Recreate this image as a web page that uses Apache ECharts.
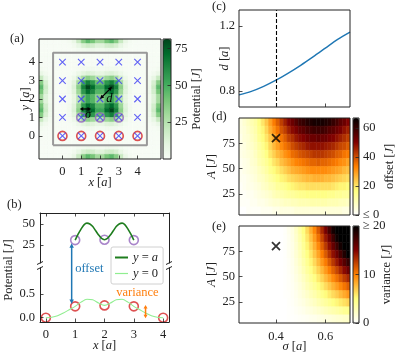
<!DOCTYPE html>
<html>
<head>
<meta charset="utf-8">
<script src="https://cdn.jsdelivr.net/npm/echarts@6/dist/echarts.min.js"></script>
<style>
html,body{margin:0;padding:0;background:#fff}
#chart{width:399px;height:359px}
</style>
</head>
<body>
<div id="chart"></div>
<script>
// ---- panel (a): potential map, cells 0.25 a wide, rows from y=5.125 down to y=-1.125
var potX = [-1.125,-0.875,-0.625,-0.375,-0.125,0.125,0.375,0.625,0.875,1.125,1.375,1.625,1.875,
            2.125,2.375,2.625,2.875,3.125,3.375,3.625,3.875,4.125,4.375,4.625,4.875,5.125];
var potY = potX.slice().reverse();
var potGrid = [
  [0,0,0,0,0,0.3,1.8,7.3,19.8,36.3,45.4,39.9,29.7,29.7,39.9,45.4,36.3,19.8,7.3,1.8,0.3,0,0,0,0,0],
  [0,0,0,0,0,0.1,0.7,2.9,7.9,14.5,18.1,16.0,11.9,11.9,16.0,18.1,14.5,7.9,2.9,0.7,0.1,0,0,0,0,0],
  [0,0,0,0,0,0,0.2,0.7,2.0,3.6,4.5,4.0,3.0,3.0,4.0,4.5,3.6,2.0,0.7,0.2,0,0,0,0,0,0],
  [0,0,0,0,0,0,0,0,0,0,0,0,0,0,0,0,0,0,0,0,0,0,0,0,0,0],
  [0,0,0,0,0,0,0,0,0,0,0,0,0,0,0,0,0,0,0,0,0,0,0,0,0,0],
  [0.3,0.1,0,0,0,0,0,0.1,0.2,0.5,0.6,0.5,0.4,0.4,0.5,0.6,0.5,0.2,0.1,0,0,0,0,0,0.1,0.3],
  [1.8,0.7,0.2,0,0,0,0.1,0.5,1.4,2.6,3.2,2.8,2.1,2.1,2.8,3.2,2.6,1.4,0.5,0.1,0,0,0,0.2,0.7,1.8],
  [7.3,2.9,0.7,0,0,0.1,0.5,2.1,5.7,10.5,13.1,11.5,8.6,8.6,11.5,13.1,10.5,5.7,2.1,0.5,0.1,0,0,0.7,2.9,7.3],
  [19.8,7.9,2.0,0,0,0.2,1.4,5.7,15.5,28.4,35.5,31.2,23.2,23.2,31.2,35.5,28.4,15.5,5.7,1.4,0.2,0,0,2.0,7.9,19.8],
  [36.3,14.5,3.6,0,0,0.5,2.6,10.5,28.4,52.1,65.1,57.3,42.6,42.6,57.3,65.1,52.1,28.4,10.5,2.6,0.5,0,0,3.6,14.5,36.3],
  [45.4,18.1,4.5,0,0,0.6,3.2,13.1,35.5,65.0,81.2,71.5,53.2,53.2,71.5,81.2,65.0,35.5,13.1,3.2,0.6,0,0,4.5,18.1,45.4],
  [39.9,16.0,4.0,0,0,0.5,2.8,11.5,31.2,57.3,71.6,63.0,46.9,46.9,63.0,71.6,57.3,31.2,11.5,2.8,0.5,0,0,4.0,16.0,39.9],
  [29.7,11.9,3.0,0,0,0.4,2.1,8.6,23.2,42.6,53.2,46.8,34.8,34.8,46.8,53.2,42.6,23.2,8.6,2.1,0.4,0,0,3.0,11.9,29.7],
  [29.7,11.9,3.0,0,0,0.4,2.1,8.6,23.2,42.6,53.2,46.8,34.8,34.8,46.8,53.2,42.6,23.2,8.6,2.1,0.4,0,0,3.0,11.9,29.7],
  [39.9,16.0,4.0,0,0,0.5,2.8,11.5,31.2,57.3,71.6,63.0,46.9,46.9,63.0,71.6,57.3,31.2,11.5,2.8,0.5,0,0,4.0,16.0,39.9],
  [45.4,18.1,4.5,0,0,0.6,3.2,13.1,35.5,65.0,81.2,71.5,53.2,53.2,71.5,81.2,65.0,35.5,13.1,3.2,0.6,0,0,4.5,18.1,45.4],
  [36.3,14.5,3.6,0,0,0.5,2.6,10.5,28.4,52.1,65.1,57.3,42.6,42.6,57.3,65.1,52.1,28.4,10.5,2.6,0.5,0,0,3.6,14.5,36.3],
  [19.8,7.9,2.0,0,0,0.2,1.4,5.7,15.5,28.4,35.5,31.2,23.2,23.2,31.2,35.5,28.4,15.5,5.7,1.4,0.2,0,0,2.0,7.9,19.8],
  [7.3,2.9,0.7,0,0,0.1,0.5,2.1,5.7,10.5,13.1,11.5,8.6,8.6,11.5,13.1,10.5,5.7,2.1,0.5,0.1,0,0,0.7,2.9,7.3],
  [1.8,0.7,0.2,0,0,0,0.1,0.5,1.4,2.6,3.2,2.8,2.1,2.1,2.8,3.2,2.6,1.4,0.5,0.1,0,0,0,0.2,0.7,1.8],
  [0.3,0.1,0,0,0,0,0,0.1,0.2,0.5,0.6,0.5,0.4,0.4,0.5,0.6,0.5,0.2,0.1,0,0,0,0,0,0.1,0.3],
  [0,0,0,0,0,0,0,0,0,0,0,0,0,0,0,0,0,0,0,0,0,0,0,0,0,0],
  [0,0,0,0,0,0,0,0,0,0,0,0,0,0,0,0,0,0,0,0,0,0,0,0,0,0],
  [0,0,0,0,0,0,0.2,0.7,2.0,3.6,4.5,4.0,3.0,3.0,4.0,4.5,3.6,2.0,0.7,0.2,0,0,0,0,0,0],
  [0,0,0,0,0,0.1,0.7,2.9,7.9,14.5,18.1,16.0,11.9,11.9,16.0,18.1,14.5,7.9,2.9,0.7,0.1,0,0,0,0,0],
  [0,0,0,0,0,0.3,1.8,7.3,19.8,36.3,45.4,39.9,29.7,29.7,39.9,45.4,36.3,19.8,7.3,1.8,0.3,0,0,0,0,0]
];
var latticeIdx = [0,1,2,3,4];
var redRowX = [0,1,2,3,4];
var purpleRowX = [1,2,3];
var boxCorners = [[-0.5,-0.5],[4.5,-0.5],[4.5,4.5],[-0.5,4.5],[-0.5,-0.5]];
var latticeTicks = [0,1,2,3,4];
var potCbTicks = [25,50,75];

// ---- panel (b): cuts through the potential
var lowX = [0,0.2,0.4,0.6,0.8,1.0,1.2,1.4,1.6,1.8,2.0,2.2,2.4,2.6,2.8,3.0,3.2,3.4,3.6,3.8,4.0];
var lowV = [0.0,0.01,0.04,0.10,0.17,0.24,0.33,0.39,0.38,0.31,0.26,0.31,0.38,0.39,0.33,0.24,0.17,0.10,0.04,0.01,0.0];
var highX = [1.0,1.1,1.2,1.3,1.4,1.5,1.6,1.7,1.8,1.9,2.0,2.1,2.2,2.3,2.4,2.5,2.6,2.7,2.8,2.9,3.0];
var highV = [31,38,44,49,51,50,47,42,37,33,31.5,33,37,42,47,50,51,49,44,38,31];
var redDotsY = [0,0.24,0.26,0.24,0];
var purpleDotsY = [31,31.5,31];
var bTopTicks = [25,50];
var bLowTicks = [0,0.5];

// ---- panel (c): lattice spacing d vs sigma
var sigmaC = [0.25,0.30,0.35,0.40,0.45,0.50,0.55,0.60,0.65,0.70];
var dVals = [0.775,0.797,0.828,0.866,0.910,0.958,1.010,1.064,1.118,1.163];
var chosenSigma = 0.4;
var chosenA = 80;
var dTicks = [0.8,1.2];
var sigmaTicks = [0.4,0.6];
var aTicks = [25,50,75];

// ---- panels (d), (e): cells 0.015 a by 8 J, rows from A=96 down to A=8
var sigmaCells = [0.2575,0.2725,0.2875,0.3025,0.3175,0.3325,0.3475,0.3625,0.3775,0.3925,
                  0.4075,0.4225,0.4375,0.4525,0.4675,0.4825,0.4975,0.5125,0.5275,0.5425,
                  0.5575,0.5725,0.5875,0.6025,0.6175,0.6325,0.6475,0.6625,0.6775,0.6925];
var aCells = [96,88,80,72,64,56,48,40,32,24,16,8];
var offsetGrid = [
  [4,6,8,10,12,16,20,24,29,34,38,42,46,50,53,56,59,60,62,63,64,64,64,63,62,60,58,55,53,50],
  [4,5,7,9,11,15,18,22,27,31,35,39,42,46,49,51,54,55,57,58,59,59,59,58,56,55,53,51,48,46],
  [3,5,6,8,10,14,17,20,24,28,32,35,38,42,44,47,49,50,52,53,53,54,53,53,51,50,48,46,44,42],
  [3,4,6,7,9,12,15,18,22,26,29,32,35,37,40,42,44,45,47,48,48,48,48,47,46,45,43,41,40,38],
  [3,4,5,6,8,11,13,16,20,23,26,28,31,33,36,37,39,40,41,42,43,43,43,42,41,40,38,37,35,34],
  [2,3,4,6,7,10,12,14,17,20,22,25,27,29,31,33,34,35,36,37,37,38,37,37,36,35,34,32,31,29],
  [2,3,4,5,6,8,10,12,15,17,19,21,23,25,27,28,29,30,31,32,32,32,32,32,31,30,29,28,26,25],
  [2,2,3,4,5,7,8,10,12,14,16,18,19,21,22,23,24,25,26,26,27,27,27,26,26,25,24,23,22,21],
  [1,2,3,3,4,5,7,8,10,11,13,14,15,17,18,19,20,20,21,21,21,21,21,21,21,20,19,18,18,17],
  [1,1,2,2,3,4,5,6,7,9,10,11,12,13,13,14,15,15,16,16,16,16,16,16,15,15,14,14,13,13],
  [1,1,1,2,2,3,3,4,5,6,6,7,8,8,9,9,10,10,10,11,11,11,11,11,10,10,10,9,9,8],
  [0,0,1,1,1,1,2,2,2,3,3,4,4,4,4,5,5,5,5,5,5,5,5,5,5,5,5,5,4,4]
];
var varianceGrid = [
  [0,0,0,0,0,0,0,0,0,0,0,0,0.2,0.7,1.2,2.2,3.5,4.9,6.4,8.1,9.7,11.5,13.4,15.4,17.3,19.2,21.1,23.0,25.0,26.9],
  [0,0,0,0,0,0,0,0,0,0,0,0,0.2,0.6,1.1,2.0,3.2,4.5,5.9,7.4,8.9,10.6,12.3,14.1,15.8,17.6,19.4,21.1,22.9,24.6],
  [0,0,0,0,0,0,0,0,0,0,0,0,0.2,0.6,1.0,1.8,2.9,4.1,5.4,6.7,8.1,9.6,11.2,12.8,14.4,16.0,17.6,19.2,20.8,22.4],
  [0,0,0,0,0,0,0,0,0,0,0,0,0.1,0.5,0.9,1.7,2.6,3.7,4.8,6.0,7.3,8.6,10.1,11.5,13.0,14.4,15.8,17.3,18.7,20.2],
  [0,0,0,0,0,0,0,0,0,0,0,0,0.1,0.4,0.8,1.5,2.3,3.3,4.3,5.4,6.5,7.7,9.0,10.2,11.5,12.8,14.1,15.4,16.6,17.9],
  [0,0,0,0,0,0,0,0,0,0,0,0,0.1,0.4,0.7,1.3,2.0,2.9,3.8,4.7,5.7,6.7,7.8,9.0,10.1,11.2,12.3,13.4,14.6,15.7],
  [0,0,0,0,0,0,0,0,0,0,0,0,0.1,0.3,0.6,1.1,1.7,2.4,3.2,4.0,4.8,5.8,6.7,7.7,8.6,9.6,10.6,11.5,12.5,13.4],
  [0,0,0,0,0,0,0,0,0,0,0,0,0.1,0.3,0.5,0.9,1.4,2.0,2.7,3.4,4.0,4.8,5.6,6.4,7.2,8.0,8.8,9.6,10.4,11.2],
  [0,0,0,0,0,0,0,0,0,0,0,0,0.1,0.2,0.4,0.7,1.2,1.6,2.1,2.7,3.2,3.8,4.5,5.1,5.8,6.4,7.0,7.7,8.3,9.0],
  [0,0,0,0,0,0,0,0,0,0,0,0,0,0.2,0.3,0.6,0.9,1.2,1.6,2.0,2.4,2.9,3.4,3.8,4.3,4.8,5.3,5.8,6.2,6.7],
  [0,0,0,0,0,0,0,0,0,0,0,0,0,0.1,0.2,0.4,0.6,0.8,1.1,1.3,1.6,1.9,2.2,2.6,2.9,3.2,3.5,3.8,4.2,4.5],
  [0,0,0,0,0,0,0,0,0,0,0,0,0,0.1,0.1,0.2,0.3,0.4,0.5,0.7,0.8,1.0,1.1,1.3,1.4,1.6,1.8,1.9,2.1,2.2]
];
var offsetCbTicks = [0,20,40,60];
var varianceCbTicks = [0,10,20];

var greens = ['#f7fcf5','#e5f5e0','#c7e9c0','#a1d99b','#74c476','#41ab5d','#238b45','#006d2c','#00441b'];
var afmhotR = ['#ffffff','#ffff80','#ff8000','#800000','#000000'];

var serif = 'Liberation Serif';
var FS = 12.5;
var ink = '#222';
var rich = {i: {fontStyle: 'italic', fontFamily: serif, fontSize: FS, color: ink}};
var crossPath = 'path://M0,0L10,10M10,0L0,10';

function toCells(xs, ys, grid) {
  var out = [];
  ys.forEach(function (y, r) {
    xs.forEach(function (x, c) { out.push([x, y, grid[r][c]]); });
  });
  return out;
}

function cells(dx, dy) {
  return function (params, api) {
    var x = api.value(0), y = api.value(1);
    var p0 = api.coord([x - dx / 2, y + dy / 2]);
    var p1 = api.coord([x + dx / 2, y - dy / 2]);
    var c = api.visual('color');
    return {type: 'rect', shape: {x: p0[0], y: p0[1], width: p1[0] - p0[0], height: p1[1] - p0[1]},
      style: {fill: c, stroke: c, lineWidth: 0.6}};
  };
}

function axis(grid, pos, min, max, ticks, o) {
  o = o || {};
  return {
    type: 'value', gridIndex: grid, position: pos, min: min, max: max, z: 12,
    splitLine: {show: false},
    axisLine: {show: !!o.line, onZero: false, lineStyle: {color: ink, width: 1}},
    axisTick: {show: ticks.length > 0, inside: true, length: 3.5, customValues: ticks, lineStyle: {color: ink, width: 0.8}},
    axisLabel: {show: !!o.labels, customValues: ticks, margin: o.margin || 5, color: ink,
      fontFamily: serif, fontSize: FS, formatter: o.fmt},
    name: o.name || '', nameLocation: 'middle', nameGap: o.gap || 20, nameMoveOverlap: false,
    nameTextStyle: {color: ink, fontFamily: serif, fontSize: FS, rich: rich}
  };
}
function hiddenX(grid) { return {type: 'value', gridIndex: grid, min: 0, max: 1, show: false}; }
function fix1(v) { return v.toFixed(1); }

var grids = [
  {left: 39, top: 39, width: 122, height: 120, show: true},
  {left: 163, top: 39, width: 8, height: 120, show: true},
  {left: 40, top: 213, width: 129, height: 50, show: false},
  {left: 40, top: 268, width: 129, height: 54, show: false},
  {left: 239, top: 10, width: 111, height: 97, show: true},
  {left: 239, top: 118, width: 111, height: 97, show: true},
  {left: 353, top: 118, width: 6, height: 97, show: true},
  {left: 239, top: 226, width: 111, height: 97, show: true},
  {left: 353, top: 226, width: 6, height: 97, show: true}
].map(function (g) {
  g.borderColor = ink; g.borderWidth = 1; g.backgroundColor = 'transparent';
  g.z = 10; g.containLabel = false; g.outerBoundsMode = 'none';
  return g;
});

var xAxes = [
  axis(0, 'bottom', -1.25, 5.25, latticeTicks, {labels: true, margin: 6, name: '{i|x} [{i|a}]', gap: 17}),
  hiddenX(1),
  axis(2, 'top', -0.2, 4.2, latticeTicks, {line: true}),
  axis(3, 'bottom', -0.2, 4.2, latticeTicks, {line: true, labels: true, margin: 6, name: '{i|x} [{i|a}]', gap: 17}),
  axis(4, 'bottom', 0.25, 0.70, sigmaTicks, {}),
  axis(5, 'bottom', 0.25, 0.70, sigmaTicks, {}),
  hiddenX(6),
  axis(7, 'bottom', 0.25, 0.70, sigmaTicks, {labels: true, margin: 7, fmt: fix1, name: '{i|σ} [{i|a}]', gap: 17}),
  hiddenX(8)
];
var yAxes = [
  axis(0, 'left', -1.25, 5.25, latticeTicks, {labels: true, margin: 4, name: '{i|y} [{i|a}]', gap: 7}),
  axis(1, 'right', 0, 81.5, potCbTicks, {labels: true, margin: 4, name: 'Potential [{i|J}]', gap: 19}),
  axis(2, 'left', 4, 63, bTopTicks, {line: true, labels: true, margin: 5}),
  axis(2, 'right', 4, 63, [], {line: true}),
  axis(3, 'left', -0.09, 1.05, bLowTicks, {line: true, labels: true, margin: 5, fmt: fix1}),
  axis(3, 'right', -0.09, 1.05, [], {line: true}),
  axis(4, 'left', 0.7, 1.3, dTicks, {labels: true, margin: 4, fmt: fix1, name: '{i|d} [{i|a}]', gap: 8}),
  axis(5, 'left', 4, 100, aTicks, {labels: true, margin: 4, name: '{i|A} [{i|J}]', gap: 21}),
  axis(6, 'right', 0, 67, offsetCbTicks, {labels: true, margin: 4, name: 'offset [{i|J}]', gap: 24,
    fmt: function (v) { return v === 0 ? '≤ 0' : String(v); }}),
  axis(7, 'left', 4, 100, aTicks, {labels: true, margin: 4, name: '{i|A} [{i|J}]', gap: 21}),
  axis(8, 'right', 0, 20, varianceCbTicks, {labels: true, margin: 4, name: 'variance [{i|J}]', gap: 21,
    fmt: function (v) { return v === 20 ? '≥ 20' : String(v); }})
];

var sites = [];
latticeIdx.forEach(function (y) { latticeIdx.forEach(function (x) { sites.push([x, y]); }); });

function ring(color) {
  return {symbol: 'circle', symbolSize: 9, itemStyle: {color: 'rgba(0,0,0,0)', borderColor: color, borderWidth: 1.6}};
}
function merge(a, b) { for (var k in b) a[k] = b[k]; return a; }

var series = [
  {type: 'custom', xAxisIndex: 0, yAxisIndex: 0, data: toCells(potX, potY, potGrid),
    renderItem: cells(0.25, 0.25), encode: {x: 0, y: 1}, clip: true, silent: true},
  {type: 'line', xAxisIndex: 0, yAxisIndex: 0, data: boxCorners, symbol: 'none', silent: true,
    lineStyle: {color: '#999', width: 2}},
  merge({type: 'scatter', xAxisIndex: 0, yAxisIndex: 0, silent: true,
    data: redRowX.map(function (x) { return [x, 0]; })}, ring('#d62728')),
  merge({type: 'scatter', xAxisIndex: 0, yAxisIndex: 0, silent: true,
    data: purpleRowX.map(function (x) { return [x, 1]; })}, ring('#9467bd')),
  {type: 'scatter', xAxisIndex: 0, yAxisIndex: 0, data: sites, symbol: crossPath, symbolSize: 6.5, silent: true,
    itemStyle: {color: 'rgba(0,0,0,0)', borderColor: '#3b3bf5', borderWidth: 1.1}},
  {type: 'line', name: 'y = a', xAxisIndex: 2, yAxisIndex: 2, symbol: 'none', smooth: 0.25,
    data: highX.map(function (x, i) { return [x, highV[i]]; }), lineStyle: {color: '#1e7d1e', width: 1.6},
    itemStyle: {color: '#1e7d1e'}},
  merge({type: 'scatter', xAxisIndex: 2, yAxisIndex: 2, silent: true,
    data: purpleRowX.map(function (x, i) { return [x, purpleDotsY[i]]; })}, ring('#9467bd')),
  {type: 'line', name: 'y = 0', xAxisIndex: 3, yAxisIndex: 4, symbol: 'none', smooth: 0.25,
    data: lowX.map(function (x, i) { return [x, lowV[i]]; }), lineStyle: {color: '#90ee90', width: 1.1},
    itemStyle: {color: '#90ee90'}},
  merge({type: 'scatter', xAxisIndex: 3, yAxisIndex: 4, silent: true,
    data: redRowX.map(function (x, i) { return [x, redDotsY[i]]; })}, ring('#d62728')),
  {type: 'line', xAxisIndex: 4, yAxisIndex: 6, symbol: 'none', smooth: 0.3, silent: true,
    data: sigmaC.map(function (s, i) { return [s, dVals[i]]; }), lineStyle: {color: '#1f77b4', width: 1.4},
    markLine: {silent: true, symbol: 'none', label: {show: false},
      lineStyle: {color: '#000', type: [4, 2], width: 1.1}, data: [{xAxis: chosenSigma}]}},
  {type: 'custom', xAxisIndex: 5, yAxisIndex: 7, data: toCells(sigmaCells, aCells, offsetGrid),
    renderItem: cells(0.015, 8), encode: {x: 0, y: 1}, clip: true, silent: true},
  {type: 'scatter', xAxisIndex: 5, yAxisIndex: 7, data: [[chosenSigma, chosenA]], symbol: crossPath, symbolSize: 8,
    silent: true, itemStyle: {color: 'rgba(0,0,0,0)', borderColor: '#000', borderWidth: 1.8}},
  {type: 'custom', xAxisIndex: 7, yAxisIndex: 9, data: toCells(sigmaCells, aCells, varianceGrid),
    renderItem: cells(0.015, 8), encode: {x: 0, y: 1}, clip: true, silent: true},
  {type: 'scatter', xAxisIndex: 7, yAxisIndex: 9, data: [[chosenSigma, chosenA]], symbol: crossPath, symbolSize: 8,
    silent: true, itemStyle: {color: 'rgba(0,0,0,0)', borderColor: '#000', borderWidth: 1.8}}
];

function cbar(idx, min, max, g, extra) {
  return merge({type: 'continuous', seriesIndex: idx, dimension: 2, min: min, max: max,
    inRange: {color: g.colors}, calculable: false, orient: 'vertical', left: g.left, top: g.top,
    itemWidth: g.w, itemHeight: g.h, padding: 0, hoverLink: false, z: 5}, extra || {});
}

var chart = echarts.init(document.getElementById('chart'));
chart.setOption({
  animation: false,
  textStyle: {fontFamily: serif, fontSize: FS, color: ink},
  grid: grids,
  xAxis: xAxes,
  yAxis: yAxes,
  visualMap: [
    cbar(0, 0, 81.5, {colors: greens, left: 163, top: 39, w: 8, h: 120}),
    cbar(10, 0, 67, {colors: afmhotR, left: 353, top: 118, w: 6, h: 97}),
    cbar(12, 0, 20, {colors: afmhotR, left: 353, top: 226, w: 6, h: 97}, {outOfRange: {color: ['#000']}})
  ],
  legend: {
    data: [{name: 'y = a', icon: 'path://M0,0h13v2h-13z'}, {name: 'y = 0', icon: 'path://M0,0h13v1.2h-13z'}],
    orient: 'vertical', left: 111, top: 247, selectedMode: false,
    padding: [4, 5, 4, 4], itemGap: 3, itemWidth: 13, itemHeight: 8,
    backgroundColor: 'rgba(255,255,255,0.85)', borderColor: '#d0d0d0', borderWidth: 1, borderRadius: 2,
    textStyle: {fontFamily: serif, fontSize: FS, color: ink, rich: rich},
    formatter: function (n) { return n === 'y = a' ? '{i|y} = {i|a}' : '{i|y} = 0'; },
    z: 20
  },
  series: series
});

// ---- annotations placed through the axes' own scales
function px(g, p) { return chart.convertToPixel({gridIndex: g}, p); }
function arrow(a, b, color, w, hl, hw) {
  var dx = b[0] - a[0], dy = b[1] - a[1], L = Math.sqrt(dx * dx + dy * dy);
  var ux = dx / L, uy = dy / L, nx = -uy, ny = ux;
  function head(t, sx, sy) {
    return {type: 'polygon', z: 30, silent: true, style: {fill: color},
      shape: {points: [[t[0], t[1]],
        [t[0] - sx * hl + nx * hw, t[1] - sy * hl + ny * hw],
        [t[0] - sx * hl - nx * hw, t[1] - sy * hl - ny * hw]]}};
  }
  return [
    {type: 'line', z: 30, silent: true, style: {stroke: color, lineWidth: w},
      shape: {x1: a[0] + ux * hl * 0.7, y1: a[1] + uy * hl * 0.7, x2: b[0] - ux * hl * 0.7, y2: b[1] - uy * hl * 0.7}},
    head(b, ux, uy), head(a, -ux, -uy)
  ];
}
function text(p, str, color, align, rot) {
  return {type: 'text', x: p[0], y: p[1], rotation: rot || 0, z: 30, silent: true,
    style: {text: str, fill: color, fontFamily: serif, fontSize: FS, align: align || 'center',
      verticalAlign: 'middle', rich: {i: {fontStyle: 'italic', fontFamily: serif, fontSize: FS, fill: color}}}};
}
function brk(x, y) {
  return {type: 'line', z: 30, silent: true, style: {stroke: ink, lineWidth: 1},
    shape: {x1: x - 3, y1: y + 1.5, x2: x + 3, y2: y - 1.5}};
}

var g = [];
g = g.concat(arrow(px(0, [2, 2]), px(0, [2.64, 2.66]), '#000', 1.2, 4, 2));
g = g.concat(arrow(px(0, [0.92, 1.46]), px(0, [1.52, 1.46]), '#000', 1.2, 3.5, 2));
g.push(text(px(0, [1.37, 1.16]), '{i|σ}', '#000'));
g.push(text(px(0, [2.5, 2.0]), '{i|d}', '#000'));
g = g.concat(arrow(px(2, [0.88, 27.3]), px(3, [0.88, 0.29]), '#1f77b4', 1.5, 4.5, 2.2));
g = g.concat(arrow(px(3, [3.4, -0.01]), px(3, [3.4, 0.27]), '#ff7f0e', 1.5, 3.5, 2));
g.push(text(px(3, [1.0, 1.03]), 'offset', '#1f77b4', 'left'));
g.push(text(px(3, [2.4, 0.53]), 'variance', '#ff7f0e', 'left'));
[40, 169].forEach(function (x) { g.push(brk(x, 263)); g.push(brk(x, 268)); });
g.push(text([9, 270], 'Potential [{i|J}]', ink, 'center', Math.PI / 2));
g.push(text([10, 39], '(a)', ink, 'left'));
g.push(text([7, 205], '(b)', ink, 'left'));
g.push(text([212, 7], '(c)', ink, 'left'));
g.push(text([212, 117], '(d)', ink, 'left'));
g.push(text([212, 227], '(e)', ink, 'left'));
chart.setOption({graphic: g});
</script>
</body>
</html>
